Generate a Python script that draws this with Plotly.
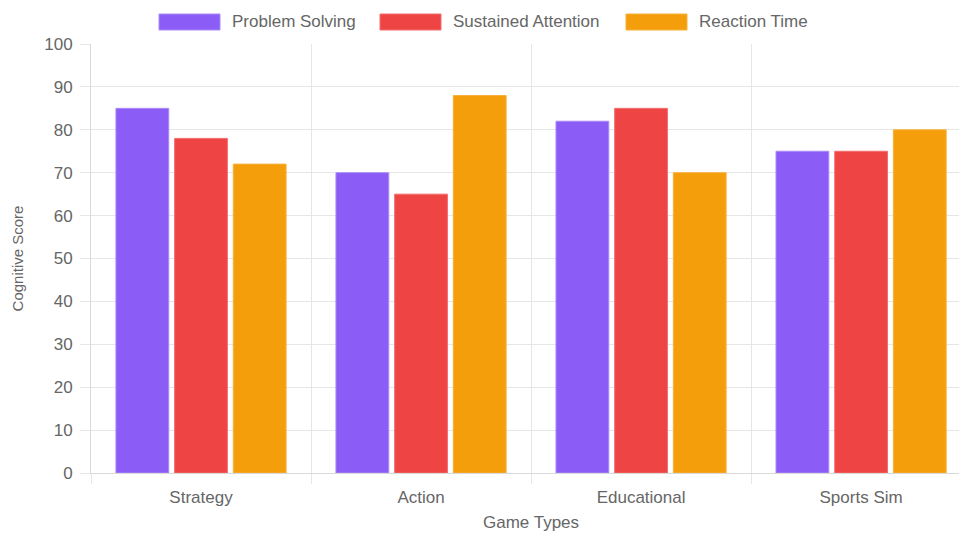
import plotly.graph_objects as go

# Cognitive scores by game type
categories = ["Strategy", "Action", "Educational", "Sports Sim"]
series_names = ["Problem Solving", "Sustained Attention", "Reaction Time"]
problem_solving = [85, 70, 82, 75]
sustained_attention = [78, 65, 85, 75]
reaction_time = [72, 88, 70, 80]
colors = ["#8b5cf6", "#ef4444", "#f59e0b"]
edge_colors = ["#a98bf8", "#f26f6f", "#f7b13c"]

W, H = 959, 533
M_L, M_R, M_T, M_B = 91, 0, 44, 60
TEXT = "#666666"
GRID = "#e6e6e6"
FONT = "Liberation Sans, Arial, sans-serif"

fig = go.Figure()
for name, vals, c, ec in zip(series_names,
                             [problem_solving, sustained_attention, reaction_time],
                             colors, edge_colors):
    fig.add_trace(go.Bar(
        x=categories, y=vals, name=name,
        marker=dict(color=c, line=dict(color=ec, width=1)),
        showlegend=False,
    ))


def px_to_paper_x(px):
    return (px - M_L) / (W - M_L - M_R)


def px_to_paper_y(py):
    return 1 + (M_T - py) / (H - M_T - M_B)


# Legend row across the top: wide colour swatch followed by the label
legend_x = [159, 380, 626]
box_w = 61
for name, c, ec, x0 in zip(series_names, colors, edge_colors, legend_x):
    fig.add_shape(type="rect", xref="paper", yref="paper",
                  x0=px_to_paper_x(x0), x1=px_to_paper_x(x0 + box_w),
                  y0=px_to_paper_y(30), y1=px_to_paper_y(14),
                  fillcolor=c, line=dict(color=ec, width=1))
    fig.add_annotation(xref="paper", yref="paper",
                       x=px_to_paper_x(x0 + box_w + 10), y=px_to_paper_y(22),
                       xanchor="left", yanchor="middle", showarrow=False,
                       text=name, font=dict(size=17, color=TEXT, family=FONT))

# x-axis title, centred under the full category span
fig.add_annotation(xref="x", yref="paper", x=1.5, y=px_to_paper_y(522),
                   xanchor="center", yanchor="middle", showarrow=False,
                   text="Game Types", font=dict(size=17, color=TEXT, family=FONT))

fig.update_layout(
    width=W, height=H,
    margin=dict(l=M_L, r=M_R, t=M_T, b=M_B),
    paper_bgcolor="white", plot_bgcolor="white",
    barmode="group", bargap=0.2, bargroupgap=0.1,
    font=dict(family=FONT, color=TEXT, size=17),
    xaxis=dict(
        type="category", range=[-0.5, 3.445],
        tickson="boundaries", ticks="outside", ticklen=10, tickcolor=GRID,
        ticklabelstandoff=9,
        showgrid=True, gridcolor=GRID, gridwidth=1,
        showline=True, linecolor="#d9d9d9", linewidth=1,
        tickfont=dict(size=17, color=TEXT),
    ),
    yaxis=dict(
        range=[0, 100], dtick=10, tick0=0,
        ticks="outside", ticklen=10, tickcolor=GRID,
        ticklabelstandoff=4,
        showgrid=True, gridcolor=GRID, gridwidth=1,
        showline=True, linecolor="#d9d9d9", linewidth=1,
        zeroline=False,
        tickfont=dict(size=17, color=TEXT),
        title=dict(text="Cognitive Score", standoff=16,
                   font=dict(size=15, color=TEXT)),
    ),
)

fig.write_html("out.html")
